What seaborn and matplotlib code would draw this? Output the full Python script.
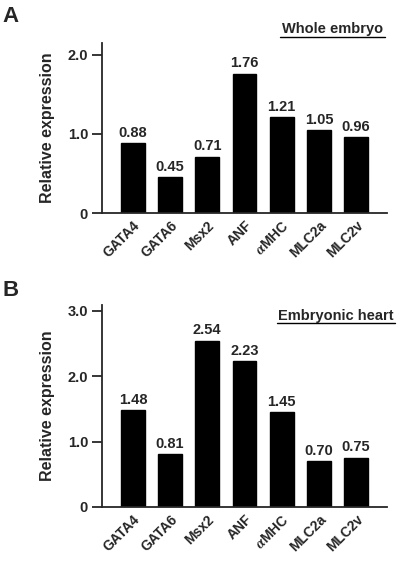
import matplotlib
matplotlib.use("Agg")
import matplotlib.pyplot as plt
import seaborn as sns
import pandas as pd

genes = ["GATA4", "GATA6", "Msx2", "ANF", r"$\alpha$MHC", "MLC2a", "MLC2v"]
whole_embryo = [0.88, 0.45, 0.71, 1.76, 1.21, 1.05, 0.96]
embryonic_heart = [1.48, 0.81, 2.54, 2.23, 1.45, 0.70, 0.75]
value_labels_a = ["0.88", "0.45", "0.71", "1.76", "1.21", "1.05", "0.96"]
value_labels_b = ["1.48", "0.81", "2.54", "2.23", "1.45", "0.70", "0.75"]

sns.set_style("ticks")
plt.rcParams["font.family"] = ["Liberation Sans", "DejaVu Sans"]
plt.rcParams["font.weight"] = "bold"
plt.rcParams["mathtext.fontset"] = "stix"

fig = plt.figure(figsize=(4.0, 5.64), dpi=100)

panels = [
    dict(vals=whole_embryo, labels=value_labels_a, rect=[0.255, 0.6223, 0.7125, 0.3014],
         ylim=(0, 2.15), yticks=[0, 1.0, 2.0], yticklabels=["0", "1.0", "2.0"],
         title="Whole embryo", letter="A", letter_y=0.99, tx=0.832, ty=0.948, line_y=0.934,
         lx=(0.70, 0.9625)),
    dict(vals=embryonic_heart, labels=value_labels_b, rect=[0.255, 0.1011, 0.7125, 0.3582],
         ylim=(0, 3.09), yticks=[0, 1.0, 2.0, 3.0], yticklabels=["0", "1.0", "2.0", "3.0"],
         title="Embryonic heart", letter="B", letter_y=0.503, tx=0.84, ty=0.44, line_y=0.427,
         lx=(0.6925, 0.9875)),
]

for p in panels:
    ax = fig.add_axes(p["rect"])
    df = pd.DataFrame({"gene": genes, "value": p["vals"]})
    sns.barplot(data=df, x="gene", y="value", color="black", width=0.64,
                saturation=1, ax=ax, edgecolor="black")
    ax.set_xlim(-0.83, 6.83)
    ax.set_ylim(*p["ylim"])
    ax.set_yticks(p["yticks"])
    ax.set_yticklabels(p["yticklabels"], fontsize=10.5, fontweight="bold")
    ax.set_xlabel("")
    ax.set_ylabel("Relative expression", fontsize=11.5, fontweight="bold", labelpad=9)
    ax.tick_params(axis="x", length=0, pad=4)
    ax.tick_params(axis="y", length=7, width=1.3, pad=3)
    for lab in ax.get_xticklabels():
        lab.set_rotation(45)
        lab.set_ha("right")
        lab.set_rotation_mode("anchor")
        lab.set_fontsize(10)
        lab.set_fontweight("bold")
    sns.despine(ax=ax)
    ax.spines["left"].set_linewidth(1.3)
    ax.spines["bottom"].set_linewidth(1.3)
    for bar, txt in zip(ax.patches, p["labels"]):
        ax.annotate(txt, (bar.get_x() + bar.get_width() / 2, bar.get_height()),
                    xytext=(0, 2.5), textcoords="offset points", ha="center", va="bottom",
                    fontsize=10.5, fontweight="bold")
    fig.text(p["tx"], p["ty"], p["title"], ha="center", va="center", fontsize=10.5,
             fontweight="bold")
    fig.add_artist(plt.Line2D(list(p["lx"]), [p["line_y"], p["line_y"]], color="black",
                              lw=1.0, transform=fig.transFigure))
    fig.text(0.005, p["letter_y"], p["letter"], ha="left", va="top", fontsize=16,
             fontweight="bold")

fig.savefig("out.png", dpi=100)
